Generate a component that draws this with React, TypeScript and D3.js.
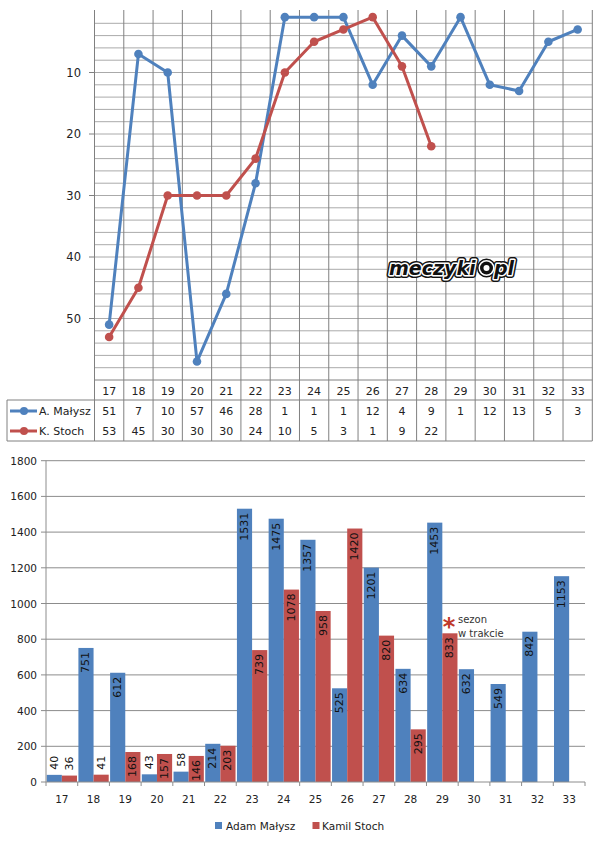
import * as d3 from "d3";

// season (year of the season, 20xx)
const seasons = [17, 18, 19, 20, 21, 22, 23, 24, 25, 26, 27, 28, 29, 30, 31, 32, 33];

// World Cup final classification
const malyszRank = [51, 7, 10, 57, 46, 28, 1, 1, 1, 12, 4, 9, 1, 12, 13, 5, 3];
const stochRank = [53, 45, 30, 30, 30, 24, 10, 5, 3, 1, 9, 22];

// World Cup points
const malyszPoints = [40, 751, 612, 43, 58, 214, 1531, 1475, 1357, 525, 1201, 634, 1453, 632, 549, 842, 1153];
const stochPoints = [36, 41, 168, 157, 146, 203, 739, 1078, 958, 1420, 820, 295, 833];

const rankTicks = [10, 20, 30, 40, 50];
const pointTicks = [0, 200, 400, 600, 800, 1000, 1200, 1400, 1600, 1800];

const BLUE = "#4F81BD";
const RED = "#C0504D";
const FONT = "DejaVu Sans";

export default function App() {
  // ---- top: ranking line chart with data table ----
  const xTop = d3.scaleBand<number>().domain(seasons).range([94.5, 592.3]);
  const yTop = d3.scaleLinear().domain([0, 60]).range([11, 380]);
  const bwTop = xTop.bandwidth();
  const cx = (i: number) => (xTop(seasons[i]) as number) + bwTop / 2;

  const rankLine = d3
    .line<number>()
    .x((_, i) => cx(i))
    .y((d) => yTop(d));

  const hGrid = yTop.ticks(30).filter((v) => v > 0 && v < 60);
  const vGrid = [...seasons.map((s) => xTop(s) as number), 592.3];

  const tableTop = yTop(60);
  const headerBottom = 400;
  const tableBottom = 441;
  const rows = [
    { name: "A. Małysz", color: BLUE, values: malyszRank, y: 411 },
    { name: "K. Stoch", color: RED, values: stochRank, y: 431 },
  ];

  // ---- bottom: points bar chart ----
  const xBot = d3.scaleBand<number>().domain(seasons).range([46, 585]);
  const bwBot = xBot.bandwidth();
  const xInner = d3.scaleBand<string>().domain(["m", "s"]).range([0.7, bwBot - 0.7]);
  const yBot = d3.scaleLinear().domain([0, 1800]).range([782, 460.7]);
  const series = [
    { key: "m", color: BLUE, values: malyszPoints },
    { key: "s", color: RED, values: stochPoints },
  ];

  return (
    <svg
      width={600}
      height={842}
      style={{ position: "absolute", left: 0, top: 0, background: "#fff" }}
      fontFamily={FONT}
    >
      <rect width={600} height={842} fill="#fff" />

      {/* horizontal grid */}
      {hGrid.map((v) => (
        <line key={v} x1={94.5} x2={592.3} y1={yTop(v)} y2={yTop(v)} stroke="#aaaaaa" strokeWidth={1} />
      ))}
      {/* vertical grid (through the table) */}
      {vGrid.map((x, i) => (
        <line key={i} x1={x} x2={x} y1={10} y2={tableBottom} stroke="#808080" strokeWidth={1} />
      ))}
      {/* table lines */}
      <line x1={94.5} x2={592.3} y1={tableTop} y2={tableTop} stroke="#808080" />
      <line x1={7} x2={592.3} y1={headerBottom} y2={headerBottom} stroke="#808080" />
      <line x1={7} x2={592.3} y1={tableBottom} y2={tableBottom} stroke="#808080" />
      <line x1={7} x2={7} y1={headerBottom} y2={tableBottom} stroke="#808080" />

      {/* y ticks */}
      {rankTicks.map((t) => (
        <g key={t}>
          <line x1={89} x2={94.5} y1={yTop(t)} y2={yTop(t)} stroke="#808080" />
          <text x={81} y={yTop(t)} textAnchor="end" dominantBaseline="central" fontSize={11.5} fill="#222">
            {t}
          </text>
        </g>
      ))}

      {/* lines */}
      {rows.map((r) => (
        <g key={r.name}>
          <path d={rankLine(r.values) ?? ""} fill="none" stroke={r.color} strokeWidth={3} strokeLinejoin="round" />
          {r.values.map((v, i) => (
            <circle key={i} cx={cx(i)} cy={yTop(v)} r={4.3} fill={r.color} />
          ))}
        </g>
      ))}

      {/* logo */}
      <g fontFamily={FONT} fontWeight="bold" fontStyle="italic" fontSize={19}>
        {[
          { stroke: "#111", sw: 6 },
          { stroke: "#fff", sw: 3 },
          { stroke: "none", sw: 0 },
        ].map((l, k) => (
          <g key={k} fill="#111" stroke={l.stroke} strokeWidth={l.sw} strokeLinejoin="round">
            <text x={389} y={275}>meczyki</text>
            <circle cx={486.5} cy={268} r={6.5} />
            <text x={494} y={275}>pl</text>
          </g>
        ))}
        <circle cx={486.5} cy={268} r={3} fill="#fff" />
      </g>

      {/* table header */}
      {seasons.map((s, i) => (
        <text key={s} x={cx(i)} y={391} textAnchor="middle" dominantBaseline="central" fontSize={11} fill="#222">
          {s}
        </text>
      ))}
      {/* table rows */}
      {rows.map((r) => (
        <g key={r.name}>
          <line x1={10} x2={37} y1={r.y} y2={r.y} stroke={r.color} strokeWidth={3} />
          <circle cx={24} cy={r.y} r={4} fill={r.color} />
          <text x={39} y={r.y} dominantBaseline="central" fontSize={11} fill="#222">
            {r.name}
          </text>
          {r.values.map((v, i) => (
            <text key={i} x={cx(i)} y={r.y} textAnchor="middle" dominantBaseline="central" fontSize={11} fill="#222">
              {v}
            </text>
          ))}
        </g>
      ))}

      {/* ---- bar chart ---- */}
      {pointTicks.map((t) => (
        <g key={t}>
          {t > 0 && <line x1={46} x2={585} y1={yBot(t)} y2={yBot(t)} stroke="#8c8c8c" />}
          <line x1={41} x2={46} y1={yBot(t)} y2={yBot(t)} stroke="#8c8c8c" />
          <text x={37} y={yBot(t)} textAnchor="end" dominantBaseline="central" fontSize={10.5} fill="#222">
            {t}
          </text>
        </g>
      ))}

      {series.map((sr) => (
        <g key={sr.key}>
          {sr.values.map((v, i) => {
            const x = (xBot(seasons[i]) as number) + (xInner(sr.key) as number);
            const w = xInner.bandwidth();
            const top = yBot(v);
            const h = yBot(0) - top;
            const label = String(v);
            const len = label.length * 6.7;
            const inside = h >= len + 4;
            return (
              <g key={i}>
                <rect x={x} y={top} width={w} height={h} fill={sr.color} />
                <text
                  transform={`translate(${x + w / 2},${inside ? top + 4 : top - 5}) rotate(-90)`}
                  textAnchor={inside ? "end" : "start"}
                  dominantBaseline="central"
                  fontSize={11}
                  fill="#111"
                >
                  {label}
                </text>
              </g>
            );
          })}
        </g>
      ))}

      {/* axes */}
      <line x1={46} x2={46} y1={yBot(1800)} y2={yBot(0)} stroke="#8c8c8c" />
      <line x1={46} x2={585} y1={yBot(0)} y2={yBot(0)} stroke="#8c8c8c" />
      {[...seasons.map((s) => xBot(s) as number), 585].map((x, i) => (
        <line key={i} x1={x} x2={x} y1={yBot(0)} y2={yBot(0) + 4} stroke="#8c8c8c" />
      ))}
      {seasons.map((s) => (
        <text
          key={s}
          x={(xBot(s) as number) + bwBot / 2}
          y={799}
          textAnchor="middle"
          dominantBaseline="central"
          fontSize={10.5}
          fill="#222"
        >
          {s}
        </text>
      ))}

      {/* annotation */}
      <text x={449} y={635} textAnchor="middle" fontSize={24} fontWeight="bold" fill="#c0392b">
        *
      </text>
      <text x={458} y={619} dominantBaseline="central" fontSize={10} fill="#333">
        sezon
      </text>
      <text x={458} y={633} dominantBaseline="central" fontSize={10} fill="#333">
        w trakcie
      </text>

      {/* legend */}
      <rect x={215} y={822} width={7} height={7} fill={BLUE} />
      <text x={226} y={826} dominantBaseline="central" fontSize={10.5} fill="#222">
        Adam Małysz
      </text>
      <rect x={312.5} y={822} width={7} height={7} fill={RED} />
      <text x={322} y={826} dominantBaseline="central" fontSize={10.5} fill="#222">
        Kamil Stoch
      </text>
    </svg>
  );
}
